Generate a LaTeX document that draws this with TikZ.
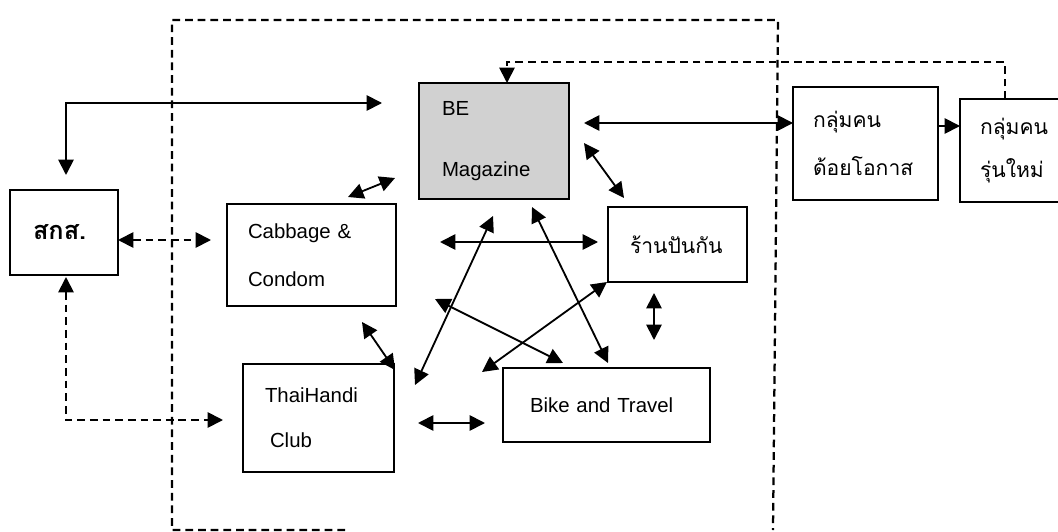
\documentclass[tikz,border=0pt]{standalone}
\usepackage{fontspec}
\setmainfont{Liberation Sans}
\newfontfamily\thaifont[Script=Thai]{Loma}
\usetikzlibrary{arrows.meta}
\newlength\px
\setlength\px{0.025cm}

\begin{document}
\begin{tikzpicture}[x=0.025cm,y=-0.025cm,
  box/.style={draw,line width=1.3pt,inner xsep=0pt,inner ysep=0pt,align=left,
    font=\fontsize{14.5}{34}\selectfont},
  link/.style={line width=1.3pt,{Triangle[length=11pt,width=11pt]}-{Triangle[length=11pt,width=11pt]}},
  onelink/.style={line width=1.3pt,-{Triangle[length=11pt,width=11pt]}},
  dashline/.style={dash pattern=on 5.5pt off 3.5pt},
  frame/.style={line width=1.6pt,dashline}]
\useasboundingbox (0,0) rectangle (1058,532);

% the dashed frame
\draw[frame] (345,530) -- (172,530) -- (172,20) -- (778,20) -- (773,530);

% boxes
\node[box,minimum width=108\px,minimum height=85\px,text width=62\px,
  font=\thaifont\bfseries\fontsize{18}{34}\selectfont] (skos) at (64,232.5) {สกส.};
\node[box,minimum width=169\px,minimum height=102\px,text width=127\px] (cabbage) at (311.5,255) {Cabbage \&\\Condom};
\node[box,fill=black!18,minimum width=150\px,minimum height=116\px,text width=104\px,
  font=\fontsize{14.5}{43}\selectfont] (be) at (494,141) {BE\\Magazine};
\node[box,minimum width=139\px,minimum height=75\px,text width=95\px,
  font=\thaifont\fontsize{15}{34}\selectfont] (shop) at (677.5,244.5) {ร้านปันกัน};
\node[box,minimum width=151\px,minimum height=108\px,text width=107\px,
  font=\fontsize{14.5}{32}\selectfont] (handi) at (318.5,418) {ThaiHandi\\\hspace*{5\px}Club};
\node[box,minimum width=207\px,minimum height=74\px,text width=153\px] (bike) at (606.5,405) {Bike and Travel};
\node[box,minimum width=145\px,minimum height=113\px,text width=105\px,
  font=\thaifont\fontsize{15}{34}\selectfont] (poor) at (865.5,143.5) {กลุ่มคน\\ด้อยโอกาส};
\node[box,minimum width=120\px,minimum height=103\px,text width=80\px,
  font=\thaifont\fontsize{15}{30}\selectfont] (young) at (1020,150.5) {กลุ่มคน\\รุ่นใหม่};

% connector ends
\coordinate (skosTop) at (66,175);
\coordinate (beLeft) at (382,103);
\coordinate (beRight) at (584,123);
\coordinate (poorLeft) at (793,123);
\coordinate (poorRight) at (938,126);
\coordinate (youngLeft) at (960,126);
\coordinate (youngTop) at (1005,99);
\coordinate (youngUp) at (1005,62);
\coordinate (beTop) at (507,83);
\coordinate (cabA) at (348,197);
\coordinate (beA) at (395,178);
\coordinate (skosRight) at (118,240);
\coordinate (cabLeft) at (211,240);
\coordinate (skosBottom) at (66,277);
\coordinate (handiLeft) at (223,420);
\coordinate (beB) at (584,143);
\coordinate (shopA) at (624,198);
\coordinate (cabRight) at (440,242);
\coordinate (shopLeft) at (598,242);
\coordinate (beC) at (493,216);
\coordinate (handiA) at (415,385);
\coordinate (beD) at (532,207);
\coordinate (bikeA) at (608,363);
\coordinate (handiB) at (435,299);
\coordinate (bikeB) at (563,363);
\coordinate (shopB) at (607,282);
\coordinate (handiC) at (482,372);
\coordinate (cabB) at (362,322);
\coordinate (handiD) at (395,370);
\coordinate (shopC) at (654,293);
\coordinate (bikeC) at (654,340);
\coordinate (handiRight) at (418,423);
\coordinate (bikeLeft) at (485,423);

% connectors
\draw[link] (skosTop) |- (beLeft);
\draw[link] (beRight) -- (poorLeft);
\draw[onelink] (poorRight) -- (youngLeft);
\draw[onelink,dashline] (youngTop) -- (youngUp) -| (beTop);
\draw[link] (cabA) -- (beA);
\draw[link,dashline] (skosRight) -- (cabLeft);
\draw[link,dashline] (skosBottom) |- (handiLeft);
\draw[link] (beB) -- (shopA);
\draw[link] (cabRight) -- (shopLeft);
\draw[link] (beC) -- (handiA);
\draw[link] (beD) -- (bikeA);
\draw[link] (handiB) -- (bikeB);
\draw[link] (shopB) -- (handiC);
\draw[link] (cabB) -- (handiD);
\draw[link] (shopC) -- (bikeC);
\draw[link] (handiRight) -- (bikeLeft);
\end{tikzpicture}
\end{document}
